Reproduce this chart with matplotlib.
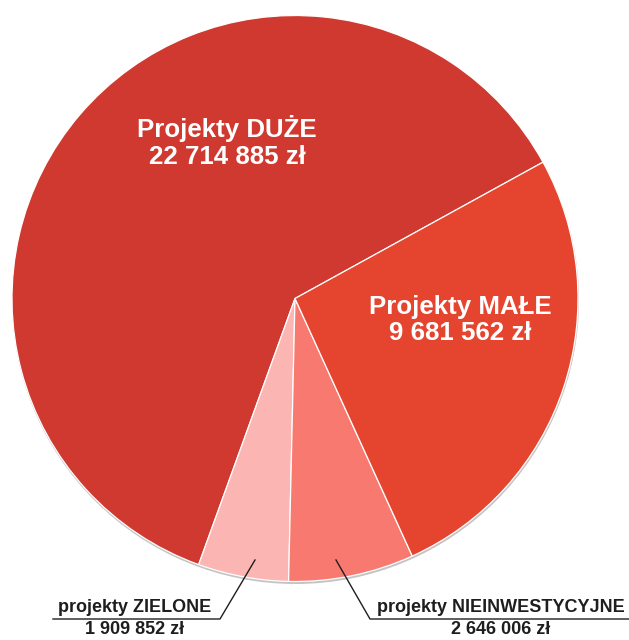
"""
Budżet projektów - wykres kołowy
"""

import matplotlib

matplotlib.use("Agg")
import matplotlib.pyplot as plt
from matplotlib.patches import Circle

# dane
kategorie = ["Projekty DUŻE", "projekty ZIELONE", "projekty NIEINWESTYCYJNE", "Projekty MAŁE"]
kwoty = [22714885, 1909852, 2646006, 9681562]
kwoty_txt = ["22 714 885 zł", "1 909 852 zł", "2 646 006 zł", "9 681 562 zł"]
kolory = ["#D0392F", "#FBB6B3", "#F8796F", "#E5442F"]

W, H = 629, 640
fig = plt.figure(figsize=(W / 100, H / 100), dpi=100)
ax = fig.add_axes([0, 0, 1, 1])
ax.set_xlim(0, W)
ax.set_ylim(0, H)
ax.set_aspect("equal")
ax.axis("off")

plt.rcParams["font.family"] = ["Liberation Sans", "DejaVu Sans"]


def py(y):
    # współrzędna pikselowa (od góry) -> dane
    return H - y


cx, cy, r = 295, py(298.5), 283

# cień pod kołem
ax.add_patch(Circle((cx + 0.5, cy - 2), r + 0.5, facecolor="#c4c4c4", edgecolor="none", zorder=1))

wedges, _ = ax.pie(
    kwoty,
    colors=kolory,
    radius=r,
    center=(cx, cy),
    startangle=28.8,
    counterclock=True,
    wedgeprops=dict(edgecolor="white", linewidth=0.9),
    frame=True,
)
for w in wedges:
    w.set_zorder(2)
ax.set_xlim(0, W)
ax.set_ylim(0, H)
ax.axis("off")

# etykiety wewnątrz
ax.text(227, py(142), kategorie[0] + "\n" + kwoty_txt[0], color="white", fontsize=18.6,
        fontweight="bold", ha="center", va="center", linespacing=1.15, zorder=5)
ax.text(460, py(320), kategorie[3] + "\n" + kwoty_txt[3], color="white", fontsize=18.6,
        fontweight="bold", ha="center", va="center", linespacing=1.15, zorder=5)

# etykiety zewnętrzne z liniami
ciemny = "#1e1e1e"
ax.text(134.5, py(607), kategorie[1], color=ciemny, fontsize=13, fontweight="bold",
        ha="center", va="center", zorder=5)
ax.text(134.5, py(630), kwoty_txt[1], color=ciemny, fontsize=13, fontweight="bold",
        ha="center", va="center", zorder=5)
ax.plot([53, 220, 255], [py(619), py(619), py(560)], color=ciemny, lw=1.0, zorder=5)

ax.text(501, py(607), kategorie[2], color=ciemny, fontsize=13, fontweight="bold",
        ha="center", va="center", zorder=5)
ax.text(501, py(630), kwoty_txt[2], color=ciemny, fontsize=13, fontweight="bold",
        ha="center", va="center", zorder=5)
ax.plot([629, 370, 336], [py(619), py(619), py(560)], color=ciemny, lw=1.0, zorder=5)

fig.savefig("out.png", dpi=100, facecolor="white")
